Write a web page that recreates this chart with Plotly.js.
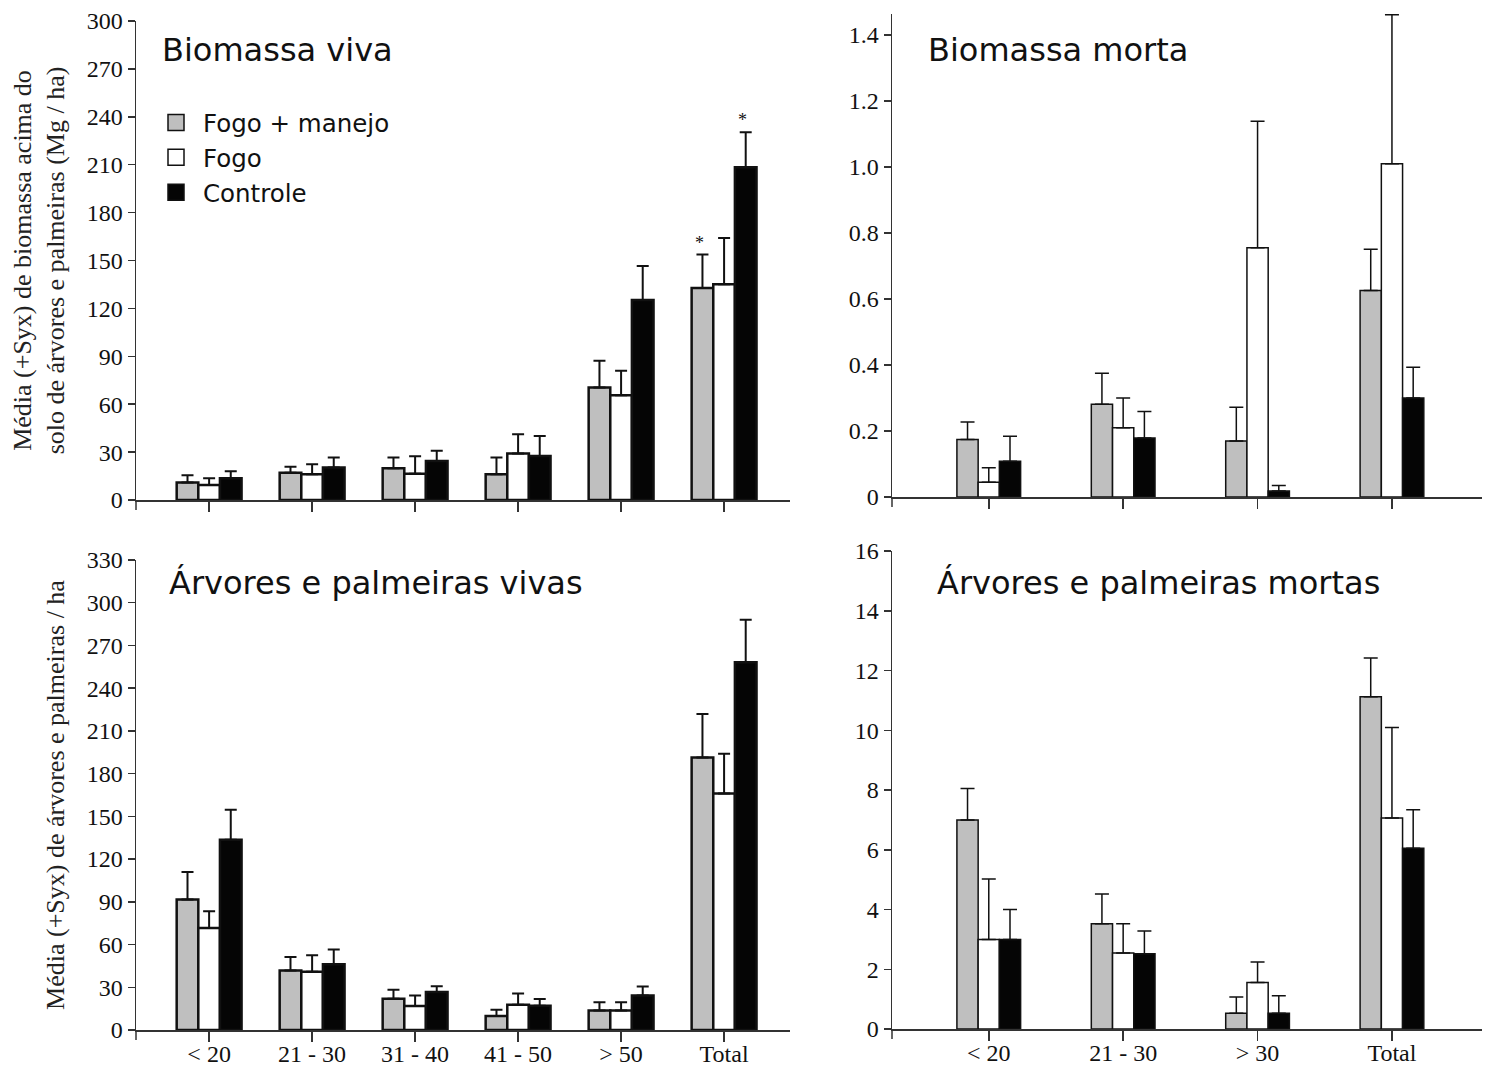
<!DOCTYPE html>
<html><head><meta charset="utf-8">
<script src="https://cdn.plot.ly/plotly-3.0.1.min.js"></script>
<style>html,body{margin:0;padding:0;background:#fff}</style>
</head><body><div id="chart" style="width:1491px;height:1068px"></div>
<script>
// ---------- data ----------
const seriesNames = ['Fogo + manejo', 'Fogo', 'Controle'];
const classesVivas = ['< 20', '21 - 30', '31 - 40', '41 - 50', '> 50', 'Total'];
const classesMortas = ['< 20', '21 - 30', '> 30', 'Total'];

// Biomassa viva (Mg/ha): mean and Syx
const bvFogoManejo = [10.9, 17.1, 19.9, 16.1, 70.5, 132.8];
const bvFogoManejoSyx = [4.6, 3.8, 6.7, 10.5, 16.7, 20.9];
const bvFogo = [9.4, 16.1, 16.5, 29.1, 65.6, 135.1];
const bvFogoSyx = [4.2, 6.3, 10.9, 12.1, 15.3, 29.0];
const bvControle = [13.6, 20.3, 24.5, 27.6, 125.2, 208.4];
const bvControleSyx = [4.4, 6.3, 6.4, 12.5, 21.4, 22.0];
const bvFogoManejoSig = ['', '', '', '', '', '*'];
const bvControleSig = ['', '', '', '', '', '*'];

// Biomassa morta (Mg/ha)
const bmFogoManejo = [0.174, 0.281, 0.170, 0.626];
const bmFogoManejoSyx = [0.053, 0.094, 0.102, 0.125];
const bmFogo = [0.045, 0.210, 0.755, 1.010];
const bmFogoSyx = [0.044, 0.090, 0.384, 0.451];
const bmControle = [0.108, 0.179, 0.018, 0.300];
const bmControleSyx = [0.076, 0.080, 0.017, 0.093];

// Árvores e palmeiras vivas (n / ha)
const avFogoManejo = [91.7, 41.8, 22.0, 9.9, 13.7, 191.4];
const avFogoManejoSyx = [19.3, 9.5, 6.3, 4.3, 5.7, 30.4];
const avFogo = [71.6, 40.9, 16.8, 17.7, 13.7, 166.1];
const avFogoSyx = [11.8, 11.5, 7.5, 8.0, 5.7, 27.9];
const avControle = [133.5, 46.1, 26.7, 17.0, 24.3, 258.2];
const avControleSyx = [21.2, 10.4, 4.0, 4.7, 6.2, 29.8];

// Árvores e palmeiras mortas (n / ha)
const amFogoManejo = [7.0, 3.52, 0.53, 11.12];
const amFogoManejoSyx = [1.05, 1.0, 0.54, 1.3];
const amFogo = [3.0, 2.54, 1.56, 7.06];
const amFogoSyx = [2.02, 0.98, 0.68, 3.03];
const amControle = [3.0, 2.52, 0.53, 6.05];
const amControleSyx = [1.0, 0.76, 0.58, 1.29];

// tick values
const tickViva = [0, 30, 60, 90, 120, 150, 180, 210, 240, 270, 300];
const tickMorta = [0, 0.2, 0.4, 0.6, 0.8, 1.0, 1.2, 1.4];
const tickMortaText = ['0', '0.2', '0.4', '0.6', '0.8', '1.0', '1.2', '1.4'];
const tickArvViva = [0, 30, 60, 90, 120, 150, 180, 210, 240, 270, 300, 330];
const tickArvMorta = [0, 2, 4, 6, 8, 10, 12, 14, 16];

// ---------- style ----------
const fills = ['#bfbfbf', '#ffffff', '#050505'];
const serif = 'Liberation Serif';
const sans = 'DejaVu Sans';
const W = 1491, H = 1068;
const wLeft = 0.21, wRight = 0.158;
const xRangeLeft = [-0.71, 5.64], xRangeRight = [-0.72, 3.67];
const domXLeft = [136 / W, 790 / W], domXRight = [892 / W, 1482 / W];

function bars(cats, means, syxs, xa, ya, w, lw, errThick, errW) {
  return means.map((m, i) => ({
    type: 'bar', x: cats, y: m, xaxis: xa, yaxis: ya,
    width: w, offset: (i - 1.5) * w,
    marker: { color: fills[i], line: { color: '#111', width: lw } },
    error_y: { type: 'data', array: syxs[i], arrayminus: m.map(() => 0), symmetric: false,
               color: '#111', thickness: errThick, width: errW },
    showlegend: false, cliponaxis: false, hoverinfo: 'skip'
  }));
}

let traces = [];
traces = traces.concat(bars(classesVivas, [bvFogoManejo, bvFogo, bvControle],
  [bvFogoManejoSyx, bvFogoSyx, bvControleSyx], 'x', 'y', wLeft, 2.5, 2, 6));
traces = traces.concat(bars(classesMortas, [bmFogoManejo, bmFogo, bmControle],
  [bmFogoManejoSyx, bmFogoSyx, bmControleSyx], 'x2', 'y2', wRight, 1.5, 1.5, 7));
traces = traces.concat(bars(classesVivas, [avFogoManejo, avFogo, avControle],
  [avFogoManejoSyx, avFogoSyx, avControleSyx], 'x3', 'y3', wLeft, 2.5, 2, 6));
traces = traces.concat(bars(classesMortas, [amFogoManejo, amFogo, amControle],
  [amFogoManejoSyx, amFogoSyx, amControleSyx], 'x4', 'y4', wRight, 1.5, 1.5, 7));

// legend entries
seriesNames.forEach((n, i) => traces.push({
  type: 'scatter', mode: 'markers', x: [null], y: [null], xaxis: 'x', yaxis: 'y', name: n,
  marker: { symbol: 'square', size: 16, color: fills[i], line: { color: '#111', width: 1.5 } },
  hoverinfo: 'skip'
}));

function esc(s) { return s.replace(/</g, '&lt;').replace(/>/g, '&gt;'); }

const tickFont = { family: serif, size: 24, color: '#111' };
function xax(dom, anchor, cats, range, labels) {
  return {
    domain: dom, anchor: anchor, type: 'category', range: range,
    categoryorder: 'array', categoryarray: cats,
    tickvals: cats, ticktext: cats.map(esc),
    showline: true, linecolor: '#333', linewidth: 1.5,
    ticks: 'outside', ticklen: 10, tickwidth: 1.5, tickcolor: '#333',
    showticklabels: labels, tickfont: tickFont, ticklabelstandoff: -8,
    showgrid: false, zeroline: false, fixedrange: true
  };
}
function yax(dom, anchor, range, vals, texts, title) {
  const a = {
    domain: dom, anchor: anchor, range: range,
    tickvals: vals, ticktext: texts || vals.map(String),
    showline: true, linecolor: '#333', linewidth: 1.5,
    ticks: 'outside', ticklen: 7, tickwidth: 1.5, tickcolor: '#333',
    tickfont: tickFont, showgrid: false, zeroline: false, fixedrange: true
  };
  if (title) a.title = { text: title, font: { family: serif, size: 26, color: '#222' }, standoff: 14 };
  return a;
}

const annFont = { family: sans, size: 32, color: '#111' };
const annotations = [
  { text: 'Biomassa viva', x: 160 / W, y: 1 - 50 / H },
  { text: 'Biomassa morta', x: 926 / W, y: 1 - 50 / H },
  { text: 'Árvores e palmeiras vivas', x: 167 / W, y: 1 - 583 / H },
  { text: 'Árvores e palmeiras mortas', x: 935 / W, y: 1 - 583 / H }
].map(a => Object.assign(a, { xref: 'paper', yref: 'paper', xanchor: 'left', yanchor: 'middle',
  showarrow: false, font: annFont }));

// significance asterisks
const pxPerUnitLeft = (domXLeft[1] - domXLeft[0]) * W / (xRangeLeft[1] - xRangeLeft[0]);
[[bvFogoManejoSig, bvFogoManejo, bvFogoManejoSyx, 0], [bvControleSig, bvControle, bvControleSyx, 2]]
  .forEach(([sig, m, s, k]) => sig.forEach((t, j) => {
    if (!t) return;
    annotations.push({ xref: 'x', yref: 'y', x: classesVivas[j], y: m[j] + s[j], text: t,
      showarrow: false, yanchor: 'bottom', xshift: (k - 1) * wLeft * pxPerUnitLeft - 3, yshift: 0,
      font: { family: serif, size: 18, color: '#111' } });
  }));

// short continuation of each y-axis line below the x-axis
const shapes = ['', '2', '3', '4'].map(k => ({
  type: 'line', xref: 'x' + k + ' domain', yref: 'y' + k + ' domain',
  x0: 0, x1: 0, ysizemode: 'pixel', yanchor: 0, y0: 0, y1: -10,
  line: { color: '#333', width: 1.5 }
}));

// top-right axis: 1.4 sits at 35 px, 0 at 497 px; range extended so the tallest error bar fits
const bmTop = 1.465;
const bmPx = (497 - 35) / 1.4;

const layout = {
  width: W, height: H, autosize: false,
  margin: { l: 0, r: 0, t: 0, b: 0 },
  paper_bgcolor: '#fff', plot_bgcolor: 'rgba(0,0,0,0)',
  barmode: 'group', showlegend: true,
  legend: { x: 149 / W, y: 1 - 100 / H, xanchor: 'left', yanchor: 'top',
            font: { family: sans, size: 24.5, color: '#111' }, itemwidth: 44,
            bgcolor: 'rgba(0,0,0,0)', borderwidth: 0 },
  xaxis: xax(domXLeft, 'y', classesVivas, xRangeLeft, false),
  yaxis: yax([1 - 500 / H, 1 - 21 / H], 'x', [0, 300], tickViva, null,
    'Média (+Syx) de biomassa acima do<br>solo de árvores e palmeiras (Mg / ha)'),
  xaxis2: xax(domXRight, 'y2', classesMortas, xRangeRight, false),
  yaxis2: yax([1 - 497 / H, 1 - (497 - bmTop * bmPx) / H], 'x2', [0, bmTop], tickMorta, tickMortaText),
  xaxis3: xax(domXLeft, 'y3', classesVivas, xRangeLeft, true),
  yaxis3: yax([1 - 1030 / H, 1 - 560 / H], 'x3', [0, 330], tickArvViva, null,
    'Média (+Syx) de árvores e palmeiras / ha'),
  xaxis4: xax(domXRight, 'y4', classesMortas, xRangeRight, true),
  yaxis4: yax([1 - 1029 / H, 1 - 551 / H], 'x4', [0, 16], tickArvMorta),
  annotations: annotations,
  shapes: shapes
};

Plotly.newPlot('chart', traces, layout, { displayModeBar: false, staticPlot: true });
</script></body></html>
